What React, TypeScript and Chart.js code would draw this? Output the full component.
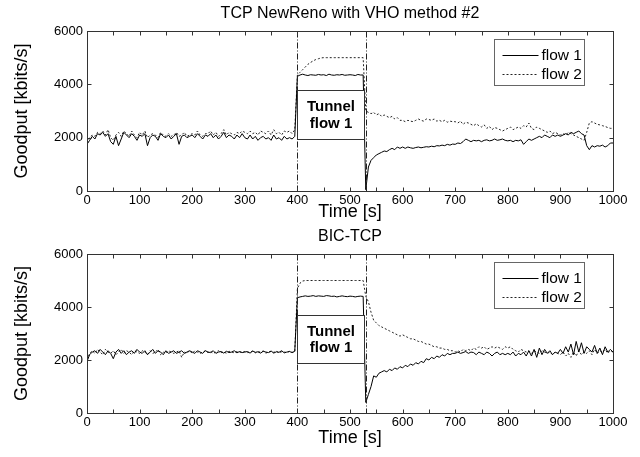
import React, { useEffect, useRef } from "react";
import { Chart, registerables } from "chart.js";

Chart.register(...registerables);

const FONT = "'Liberation Sans', Arial, Helvetica, sans-serif";

// sampling grid (s)
const SAMPLE_STEP_S = 5;
const T_MAX = 1000;
const TIME: number[] = [];
for (let t = 0; t <= T_MAX; t += SAMPLE_STEP_S) TIME.push(t);

const X_TICK_LABEL_STEP = 100;
const X_TICK_MARK_STEP = 50;
const Y_MAX = 6000;
const Y_STEP = 2000;

const EVENT_TIMES = [400, 530];
const TUNNEL_START = 400;
const TUNNEL_END = 530;

const TITLES = ["TCP NewReno with VHO method #2", "BIC-TCP"];
const SERIES_LABELS = ["flow 1", "flow 2"];
const X_TITLE = "Time [s]";
const Y_TITLE = "Goodput [kbits/s]";
const TUNNEL_TEXT = ["Tunnel", "flow 1"];

// Tunnel box vertical extent (kbit/s) per chart
const TUNNEL_BOX_NEWRENO = [1950, 3800];
const TUNNEL_BOX_BIC = [1900, 3700];

// TCP NewReno — flow 1 (kbit/s), every 5 s from 0 to 1000
const NEWRENO_FLOW1 = [
  1750, 1900, 2050, 1950, 2150, 2100, 2200, 2050, 2150, 1850, 1750, 2050, 1700, 1950, 2200, 2100, 2000, 2150, 2050, 1900,
  2100, 2050, 2150, 1700, 2000, 2100, 2050, 1900, 2150, 2050, 2000, 2100, 1950, 2050, 2150, 1750, 2050, 2100, 2000, 2050,
  2100, 2000, 2150, 2050, 1950, 2100, 2050, 2150, 2000, 2100, 1950, 2050, 2200, 2000, 2100, 2050, 1950, 2100, 2000, 2150,
  2000, 1950, 2100, 1950, 2050, 1900, 2000, 2050, 1950, 2000, 1900, 2100, 1950, 2000, 1900, 2050, 1950, 2000, 1950, 2050,
  4300, 4350, 4380, 4350, 4330, 4360, 4350, 4340, 4370, 4350, 4360, 4330, 4380, 4350, 4340, 4360, 4350, 4370, 4340, 4350, 4360, 4350, 4330, 4370, 4350, 4350,
  50, 900, 1150, 1250, 1350, 1400, 1450, 1500, 1480, 1550, 1600, 1550, 1650, 1600,
  1650, 1600, 1650, 1620, 1600, 1630, 1650, 1620, 1640, 1660, 1650, 1680, 1660, 1700, 1690, 1720, 1700, 1750, 1720, 1760,
  1750, 1800, 1780, 1850, 1950, 1900, 1850, 1900, 1880, 1900, 1850, 1900, 1920, 1880, 1900, 1950, 1900, 1920, 1950, 1900,
  1880, 1900, 1850, 1900, 1880, 1920, 1750, 1850, 1950, 1900, 1950, 2000, 2050, 2000, 2100, 2050, 2000, 2100, 2050, 2100,
  2050, 2100, 2150, 2100, 2200, 2150, 2200, 2250, 2150, 2100, 1700, 1550, 1700, 1650, 1700, 1680, 1720, 1650, 1700, 1800,
  1800,
];

// TCP NewReno — flow 2
const NEWRENO_FLOW2 = [
  1800, 2000, 2100, 2050, 2200, 2150, 2250, 2100, 2300, 2000, 1900, 2100, 2200, 2050, 2250, 2150, 2050, 2250, 2100, 2000,
  2200, 2100, 2250, 2000, 2100, 2150, 2100, 2000, 2200, 2100, 2050, 2150, 2050, 2100, 2200, 2050, 2100, 2200, 2050, 2100,
  2150, 2100, 2250, 2100, 2050, 2150, 2150, 2250, 2100, 2200, 2050, 2150, 2300, 2100, 2200, 2150, 2100, 2200, 2150, 2250,
  2200, 2150, 2250, 2150, 2200, 2100, 2250, 2200, 2150, 2250, 2100, 2300, 2150, 2200, 2100, 2250, 2200, 2250, 2150, 2300,
  4350, 4450, 4550, 4650, 4750, 4820, 4880, 4930, 4960, 4990, 5000, 5000, 5000, 5000, 5000, 5000, 5000, 5000, 5000, 5000, 5000, 5000, 5000, 5000, 5000, 5000,
  3000, 2950, 2900, 2950, 2850, 2900, 2800, 2850, 2800, 2750, 2800, 2700, 2750, 2650,
  2650, 2600, 2650, 2620, 2600, 2650, 2700, 2650, 2620, 2700, 2680, 2650, 2700, 2620, 2650, 2600, 2650, 2580, 2620, 2600,
  2600, 2550, 2620, 2500, 2580, 2550, 2500, 2450, 2520, 2450, 2400, 2480, 2350, 2420, 2300, 2380, 2350, 2300, 2250, 2300,
  2350, 2400, 2300, 2350, 2400, 2350, 2450, 2400, 2550, 2350, 2300, 2400, 2350, 2300, 2250, 2200, 2250, 2150, 2200, 2150,
  2100, 2150, 2100, 2200, 2150, 2100, 2050, 2000, 1950, 1900, 2200, 2550, 2600, 2550, 2500, 2480, 2450, 2420, 2380, 2350,
  2350,
];

// BIC-TCP — flow 1
const BIC_FLOW1 = [
  1950, 2200, 2300, 2350, 2250, 2400, 2300, 2200, 2350, 2250, 2050, 2300, 2400, 2250, 2350, 2200, 2300, 2350, 2250, 2400,
  2300, 2250, 2350, 2200, 2300, 2400, 2250, 2350, 2300, 2200, 2350, 2250, 2300, 2350, 2250, 2300, 2350, 2250, 2300, 2350,
  2300, 2250, 2350, 2300, 2250, 2350, 2300, 2280, 2350, 2250, 2300, 2320, 2260, 2330, 2280, 2300, 2350, 2270, 2320, 2280,
  2300, 2320, 2260, 2340, 2290, 2310, 2260, 2330, 2300, 2280, 2340, 2260, 2310, 2290, 2350, 2270, 2300, 2320, 2280, 2330,
  4350, 4380, 4400, 4420, 4400, 4410, 4430, 4400, 4420, 4410, 4400, 4430, 4420, 4400, 4410, 4380, 4400, 4420, 4400, 4390, 4410, 4400, 4380, 4400, 4410, 4400,
  400, 700, 1000, 1400, 1350, 1500, 1550, 1600, 1550, 1650, 1600, 1700, 1650, 1750,
  1700, 1800, 1750, 1850, 1800, 1900, 1850, 1950, 1900, 2050, 2000, 2100, 2050, 2150, 2100, 2200, 2150, 2250, 2200, 2250,
  2250, 2300, 2250, 2280, 2320, 2250, 2300, 2280, 2200, 2300, 2250, 2200, 2300, 2250, 2150, 2250, 2300, 2200, 2250, 2200,
  2250, 2200, 2300, 2150, 2250, 2200, 2300, 2150, 2350, 2150, 2400, 2100, 2450, 2200, 2400, 2250, 2350, 2200, 2300, 2250,
  2400, 2250, 2500, 2300, 2600, 2200, 2700, 2300, 2650, 2250, 2500, 2400, 2300, 2550, 2250, 2450, 2200, 2500, 2300, 2400,
  2300,
];

// BIC-TCP — flow 2
const BIC_FLOW2 = [
  2000, 2250, 2350, 2250, 2400, 2300, 2200, 2400, 2300, 2250, 2350, 2200, 2300, 2400, 2250, 2350, 2300, 2200, 2350, 2300,
  2250, 2350, 2300, 2200, 2350, 2250, 2300, 2400, 2200, 2300, 2250, 2350, 2300, 2250, 2300, 2350, 2100, 2300, 2250, 2350,
  2250, 2350, 2300, 2250, 2300, 2350, 2280, 2320, 2250, 2300, 2350, 2280, 2300, 2260, 2330, 2300, 2270, 2320, 2300, 2290,
  2320, 2280, 2300, 2330, 2270, 2310, 2300, 2340, 2260, 2300, 2320, 2290, 2330, 2270, 2310, 2300, 2280, 2330, 2290, 2310,
  4700, 4900, 4980, 5000, 5000, 5000, 5000, 5000, 5000, 5000, 5000, 5000, 5000, 5000, 5000, 5000, 5000, 5000, 5000, 5000, 5000, 5000, 5000, 5000, 5000, 5000,
  4400, 4200, 3800, 3500, 3400, 3300, 3250, 3200, 3150, 3100, 3050, 3000, 2950, 2900,
  2950, 2900, 2850, 2800, 2800, 2750, 2700, 2700, 2650, 2600, 2600, 2550, 2500, 2500, 2450, 2450, 2400, 2400, 2350, 2350,
  2300, 2350, 2300, 2400, 2350, 2400, 2350, 2450, 2400, 2500, 2450, 2500, 2400, 2450, 2500, 2450, 2500, 2450, 2400, 2500,
  2450, 2500, 2400, 2350, 2300, 2400, 2350, 2300, 2350, 2250, 2350, 2300, 2250, 2350, 2300, 2250, 2300, 2200, 2300, 2250,
  2200, 2300, 2150, 2250, 2100, 2300, 2150, 2350, 2200, 2300, 2250, 2350, 2200, 2400, 2250, 2350, 2300, 2400, 2250, 2350,
  2300,
];

const toPoints = (vals: number[]) =>
  TIME.map((t, i) => ({ x: t, y: vals[i] })).filter((p) => p.y !== undefined);

type Cfg = {
  title: string;
  flow1: number[];
  flow2: number[];
  tunnelBox: number[];
  height: number;
  xAxisHeight: number;
  xTitlePadBottom: number;
  tunnelTextOffset: number;
};

const CONFIGS: Cfg[] = [
  {
    title: TITLES[0],
    flow1: NEWRENO_FLOW1,
    flow2: NEWRENO_FLOW2,
    tunnelBox: TUNNEL_BOX_NEWRENO,
    height: 223,
    xAxisHeight: 32,
    xTitlePadBottom: 0,
    tunnelTextOffset: 8.5,
  },
  {
    title: TITLES[1],
    flow1: BIC_FLOW1,
    flow2: BIC_FLOW2,
    tunnelBox: TUNNEL_BOX_BIC,
    height: 234,
    xAxisHeight: 44,
    xTitlePadBottom: 8,
    tunnelTextOffset: 8,
  },
];

function makeOverlay(cfg: Cfg) {
  return {
    id: "overlay",
    afterDatasetsDraw(chart: any) {
      const { ctx, chartArea: a, scales } = chart;
      const x = scales.x;
      const y = scales.y;
      const L = Math.round(a.left) + 0.5;
      const R = Math.round(a.right) + 0.5;
      const T = Math.round(a.top) + 0.5;
      const B = Math.round(a.bottom) + 0.5;
      ctx.save();

      // event lines (dash-dot)
      ctx.strokeStyle = "#222";
      ctx.lineWidth = 1;
      ctx.setLineDash([6, 2, 1, 2]);
      for (const t of EVENT_TIMES) {
        const px = Math.round(x.getPixelForValue(t)) + 0.5;
        ctx.beginPath();
        ctx.moveTo(px, T);
        ctx.lineTo(px, B);
        ctx.stroke();
      }
      ctx.setLineDash([]);

      // tunnel box
      const bx0 = Math.round(x.getPixelForValue(TUNNEL_START)) + 0.5;
      const bx1 = Math.round(x.getPixelForValue(TUNNEL_END)) - 1.5;
      const by0 = Math.round(y.getPixelForValue(cfg.tunnelBox[1])) + 0.5;
      const by1 = Math.round(y.getPixelForValue(cfg.tunnelBox[0])) + 0.5;
      ctx.fillStyle = "#fff";
      ctx.fillRect(bx0, by0, bx1 - bx0, by1 - by0);
      ctx.strokeStyle = "#333";
      ctx.strokeRect(bx0, by0, bx1 - bx0, by1 - by0);
      ctx.fillStyle = "#000";
      ctx.font = `bold 15px ${FONT}`;
      ctx.textAlign = "center";
      ctx.textBaseline = "middle";
      const cx = (bx0 + bx1) / 2;
      const cy = (by0 + by1) / 2;
      ctx.fillText(TUNNEL_TEXT[0], cx, cy - cfg.tunnelTextOffset);
      ctx.fillText(TUNNEL_TEXT[1], cx, cy + cfg.tunnelTextOffset);

      // frame
      ctx.strokeStyle = "#333";
      ctx.strokeRect(L, T, R - L, B - T);

      // inward ticks
      ctx.beginPath();
      for (let t = 0; t <= T_MAX; t += X_TICK_MARK_STEP) {
        const px = Math.round(x.getPixelForValue(t)) + 0.5;
        ctx.moveTo(px, B);
        ctx.lineTo(px, B - 4);
        ctx.moveTo(px, T);
        ctx.lineTo(px, T + 4);
      }
      for (let v = 0; v <= Y_MAX; v += Y_STEP) {
        const py = Math.round(y.getPixelForValue(v)) + 0.5;
        ctx.moveTo(L, py);
        ctx.lineTo(L + 4, py);
        ctx.moveTo(R, py);
        ctx.lineTo(R - 4, py);
      }
      ctx.stroke();

      // legend
      const lx = Math.round(a.right) - 119 + 0.5;
      const ly = Math.round(a.top) + 8 + 0.5;
      ctx.fillStyle = "#fff";
      ctx.fillRect(lx, ly, 90, 46);
      ctx.strokeStyle = "#666";
      ctx.strokeRect(lx, ly, 90, 46);
      ctx.font = `15.5px ${FONT}`;
      ctx.textAlign = "left";
      ctx.textBaseline = "middle";
      chart.data.datasets.forEach((ds: any, i: number) => {
        const ry = Math.round(ly + 15 + i * 19) + 0.5;
        ctx.strokeStyle = ds.borderColor;
        ctx.lineWidth = 1;
        ctx.setLineDash(ds.borderDash || []);
        ctx.beginPath();
        ctx.moveTo(lx + 8, ry);
        ctx.lineTo(lx + 44, ry);
        ctx.stroke();
        ctx.setLineDash([]);
        ctx.fillStyle = "#000";
        ctx.fillText(ds.label, lx + 47, ry);
      });
      ctx.restore();
    },
  };
}

function GoodputChart({ cfg }: { cfg: Cfg }) {
  const ref = useRef<HTMLCanvasElement | null>(null);
  useEffect(() => {
    if (!ref.current) return;
    const chart = new Chart(ref.current, {
      type: "line",
      data: {
        datasets: [
          {
            label: SERIES_LABELS[0],
            data: toPoints(cfg.flow1),
            borderColor: "#000",
            borderWidth: 1,
            pointRadius: 0,
            tension: 0,
            fill: false,
          },
          {
            label: SERIES_LABELS[1],
            data: toPoints(cfg.flow2),
            borderColor: "#222",
            borderWidth: 1,
            borderDash: [2, 2],
            pointRadius: 0,
            tension: 0,
            fill: false,
          },
        ],
      },
      options: {
        responsive: false,
        animation: false,
        events: [],
        layout: { padding: { left: 0, right: 27, top: 0, bottom: 0 } },
        plugins: {
          legend: { display: false },
          tooltip: { enabled: false },
          title: { display: false },
        },
        scales: {
          x: {
            type: "linear",
            min: 0,
            max: T_MAX,
            grid: { display: false, drawTicks: false },
            border: { display: false },
            ticks: {
              stepSize: X_TICK_LABEL_STEP,
              autoSkip: false,
              maxRotation: 0,
              padding: 2,
              color: "#000",
              font: { family: FONT, size: 13 },
              callback: (v: any) => String(v),
            },
            title: {
              display: true,
              text: X_TITLE,
              color: "#000",
              font: { family: FONT, size: 18 },
              padding: { top: 0, bottom: cfg.xTitlePadBottom },
            },
            afterFit: (s: any) => {
              s.height = cfg.xAxisHeight;
            },
          },
          xTop: {
            type: "linear",
            position: "top",
            min: 0,
            max: T_MAX,
            grid: { display: false, drawTicks: false },
            border: { display: false },
            ticks: { display: false },
            title: {
              display: true,
              text: cfg.title,
              color: "#000",
              font: { family: FONT, size: 16 },
              padding: { top: 4, bottom: 0 },
            },
            afterFit: (s: any) => {
              s.height = 31;
            },
          },
          y: {
            min: 0,
            max: Y_MAX,
            grid: { display: false, drawTicks: false },
            border: { display: false },
            ticks: {
              stepSize: Y_STEP,
              padding: 4,
              color: "#000",
              font: { family: FONT, size: 13 },
              callback: (v: any) => String(v),
            },
            title: {
              display: true,
              text: Y_TITLE,
              color: "#000",
              font: { family: FONT, size: 18 },
              padding: { top: 11, bottom: 0 },
            },
            afterFit: (s: any) => {
              s.width = 87;
            },
          },
        },
      } as any,
      plugins: [makeOverlay(cfg)],
    });
    return () => chart.destroy();
  }, [cfg]);
  return (
    <canvas
      ref={ref}
      width={640}
      height={cfg.height}
      style={{ display: "block", width: 640, height: cfg.height }}
    />
  );
}

export default function App() {
  useEffect(() => {
    document.body.style.margin = "0";
    document.body.style.background = "#fff";
  }, []);
  return (
    <div style={{ width: 640, height: 457, background: "#fff" }}>
      {CONFIGS.map((c, i) => (
        <GoodputChart key={i} cfg={c} />
      ))}
    </div>
  );
}
